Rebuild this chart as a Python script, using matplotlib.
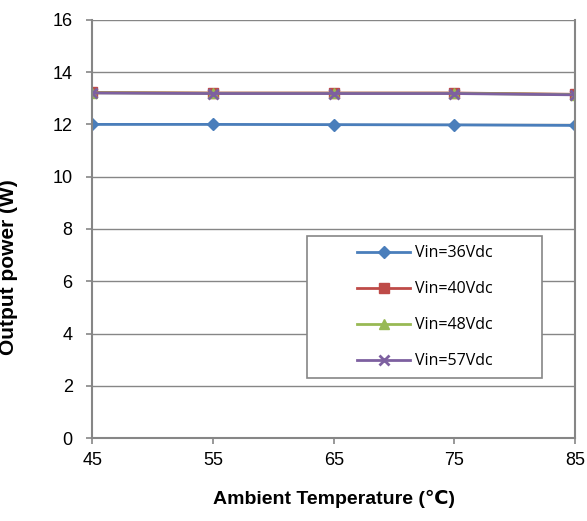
import matplotlib.pyplot as plt
from matplotlib.patches import Rectangle

temps = [45, 55, 65, 75, 85]
p36 = [12.0, 12.0, 11.99, 11.98, 11.96]
p40 = [13.22, 13.2, 13.2, 13.2, 13.15]
p48 = [13.21, 13.19, 13.19, 13.19, 13.14]
p57 = [13.2, 13.18, 13.18, 13.18, 13.13]
labels = ['Vin=36Vdc', 'Vin=40Vdc', 'Vin=48Vdc', 'Vin=57Vdc']

plt.rcParams['font.family'] = ['Liberation Sans', 'DejaVu Sans']
fig = plt.figure(figsize=(5.87, 5.21), dpi=100)
ax = fig.add_axes([0.157, 0.159, 0.823, 0.803])

gray = '#868686'
ax.plot(temps, p36, color='#4A7EBB', marker='D', ms=6, lw=2, label=labels[0])
ax.plot(temps, p40, color='#BE4B48', marker='s', ms=7, lw=2, label=labels[1])
ax.plot(temps, p48, color='#98B954', marker='^', ms=7, lw=2, label=labels[2])
ax.plot(temps, p57, color='#7D60A0', marker='x', ms=7, mew=2, lw=2, label=labels[3])

ax.set_xlim(45, 85)
ax.set_ylim(0, 16)
ax.set_xticks(temps)
ax.set_yticks(range(0, 17, 2))
ax.yaxis.grid(True, color=gray, lw=1)
ax.set_axisbelow(True)
for s in ['left', 'right', 'bottom']:
    ax.spines[s].set_color(gray)
    ax.spines[s].set_linewidth(1.5)
ax.spines['top'].set_visible(False)
ax.tick_params(colors=gray, labelcolor='black', labelsize=13, length=4, width=1.2)
ax.tick_params(axis='x', pad=6)
ax.tick_params(axis='y', pad=10)

ax.set_xlabel('Ambient Temperature (\u2103)', fontsize=14, fontweight='bold')
ax.set_ylabel('Output power (W)', fontsize=15, fontweight='bold')
ax.xaxis.set_label_coords(0.5, -0.124)
ax.yaxis.set_label_coords(-0.153, 0.41)

# legend box drawn separately, entries centered inside
box = Rectangle((0.445, 0.143), 0.487, 0.34, transform=ax.transAxes, fill=True,
                facecolor='white', edgecolor=gray, lw=1.2, zorder=4)
ax.add_patch(box)
leg = ax.legend(loc='center', bbox_to_anchor=(0.445 + 0.487 / 2 + 0.0, 0.143 + 0.17),
                prop={'family': 'Open Sans', 'size': 11.5}, frameon=False,
                labelspacing=1.25, handlelength=3.3, handletextpad=0.3)
leg.set_zorder(5)

fig.savefig('out.png')
